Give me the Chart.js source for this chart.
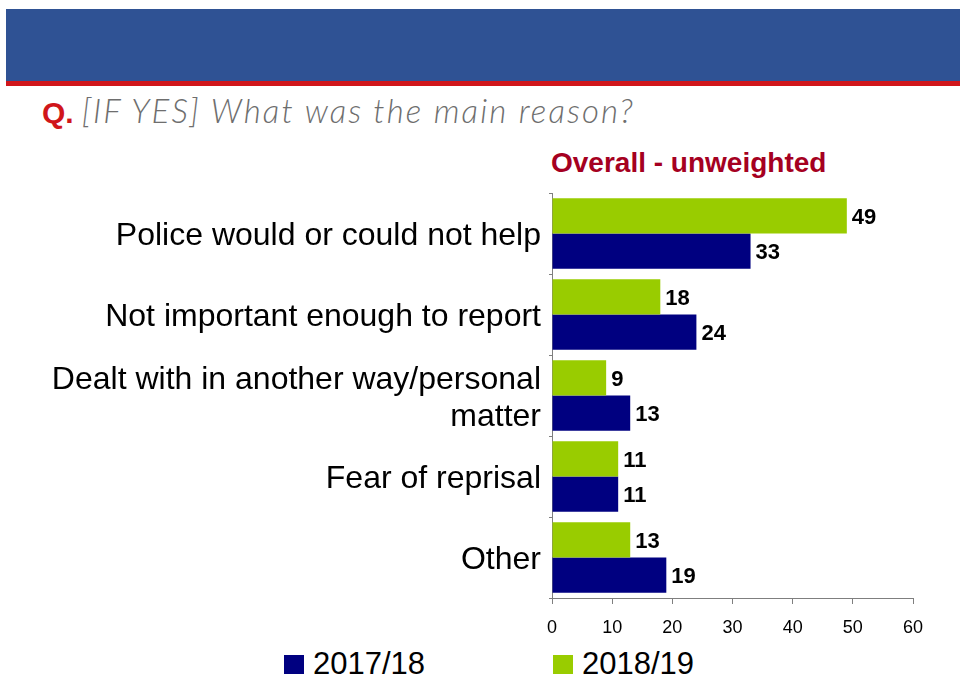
<!DOCTYPE html>
<html>
<head>
<meta charset="utf-8">
<script src="https://cdn.jsdelivr.net/npm/chart.js@4"></script>
<style>
  html, body { margin: 0; padding: 0; background: #fff; }
  body { width: 960px; height: 679px; position: relative; overflow: hidden; font-family: "Liberation Sans", Arial, sans-serif; }
  .banner { position: absolute; left: 6px; top: 9px; width: 954px; height: 72px; background: #2F5294; }
  .rule { position: absolute; left: 6px; top: 81px; width: 954px; height: 5px; background: #D0161B; }
  .question { position: absolute; left: 42px; top: 90px; white-space: nowrap; }
  .question .q { color: #D0161B; font: bold 30px "Liberation Sans", Arial, sans-serif; }
  .question .txt { color: #6E6E6E; font: italic 300 33px Lato, "Open Sans", sans-serif; letter-spacing: 2.1px; margin-left: 8px; }
  .subtitle { position: absolute; left: 551px; top: 147px; color: #A50021; font: bold 28px "Liberation Sans", Arial, sans-serif; white-space: nowrap; }
  #legend { position: absolute; top: 646px; left: 0; width: 960px; height: 34px; }
  #legend .item { position: absolute; top: 0; display: flex; align-items: center; font-size: 31px; color: #000; }
  #legend .box { width: 20px; height: 19px; margin-right: 9px; }
  canvas { position: absolute; left: 0; top: 0; }
</style>
</head>
<body>
<div class="banner"></div>
<div class="rule"></div>
<div class="question"><span class="q">Q.</span><span class="txt">[IF YES] What was the main reason?</span></div>
<div class="subtitle">Overall - unweighted</div>
<div id="legend"></div>
<canvas id="reasonsChart" width="960" height="679"></canvas>
<script>
const reasons = [
    "Police would or could not help",
    "Not important enough to report",
    ["Dealt with in another way/personal", "matter"],
    "Fear of reprisal",
    "Other"
];
const values1819 = [49, 18, 9, 11, 13];
const values1718 = [33, 24, 13, 11, 19];
const xTicks = [0, 10, 20, 30, 40, 50, 60];

const green = "#99CC00";
const navy = "#000080";

// numbers at the end of each bar
const barValueLabels = {
    id: "barValueLabels",
    afterDatasetsDraw(chart) {
        const ctx = chart.ctx;
        ctx.save();
        ctx.font = "bold 22px 'Liberation Sans', Arial, sans-serif";
        ctx.fillStyle = "#000";
        ctx.textAlign = "left";
        ctx.textBaseline = "middle";
        chart.data.datasets.forEach((ds, i) => {
            chart.getDatasetMeta(i).data.forEach((bar, j) => {
                ctx.fillText(ds.data[j], bar.x + 5, bar.y + 2);
            });
        });
        ctx.restore();
    }
};

const chart = new Chart(document.getElementById("reasonsChart").getContext("2d"), {
    type: "bar",
    data: {
        labels: reasons,
        datasets: [
            { label: "2018/19", data: values1819, backgroundColor: green },
            { label: "2017/18", data: values1718, backgroundColor: navy }
        ]
    },
    options: {
        indexAxis: "y",
        responsive: false,
        animation: false,
        events: [],
        layout: { padding: { top: 193, right: 47, bottom: 41, left: 0 } },
        datasets: { bar: { categoryPercentage: 0.87, barPercentage: 1 } },
        plugins: {
            legend: { display: false },
            tooltip: { enabled: false }
        },
        scales: {
            y: {
                grid: { drawOnChartArea: false, drawTicks: true, tickLength: 3, color: "#7F7F7F" },
                border: { color: "#7F7F7F" },
                ticks: {
                    color: "#000",
                    padding: 8,
                    labelOffset: 3,
                    font: { family: "'Liberation Sans', Arial, sans-serif", size: 32, lineHeight: 1.15 }
                },
                afterFit: s => { s.width = 552; }
            },
            x: {
                min: 0,
                max: 60,
                afterBuildTicks: s => { s.ticks = xTicks.map(v => ({ value: v })); },
                grid: { drawOnChartArea: false, drawTicks: true, tickLength: 6, color: "#7F7F7F" },
                border: { color: "#7F7F7F" },
                ticks: {
                    color: "#000",
                    padding: 13,
                    font: { family: "'Liberation Sans', Arial, sans-serif", size: 18 }
                },
                afterFit: s => { s.height = 40; }
            }
        }
    },
    plugins: [barValueLabels]
});

// legend lists 2017/18 first
const legendEl = document.getElementById("legend");
const legendLeft = [284, 553];
chart.data.datasets.slice().reverse().forEach((ds, i) => {
    const item = document.createElement("div");
    item.className = "item";
    item.style.left = legendLeft[i] + "px";
    const box = document.createElement("span");
    box.className = "box";
    box.style.background = ds.backgroundColor;
    const txt = document.createElement("span");
    txt.textContent = ds.label;
    item.appendChild(box);
    item.appendChild(txt);
    legendEl.appendChild(item);
});
</script>
</body>
</html>
